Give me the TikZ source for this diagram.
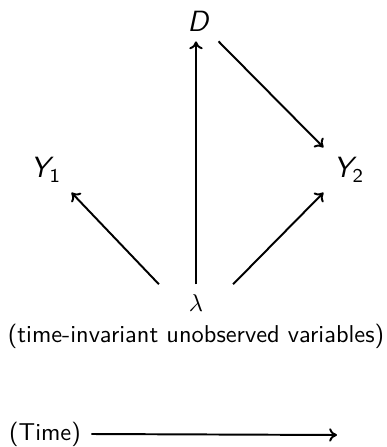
\documentclass[tikz,border=0pt]{standalone}
\usepackage{amsmath}
\usepackage{tikz}
\usetikzlibrary{arrows,arrows.meta,positioning,calc}

\begin{document}
\begin{tikzpicture}[
            x=0.41pt, y=-0.41pt,
            var/.style={font=\large\sffamily\itshape, inner sep=4pt},
            latent/.style={inner sep=4pt, minimum width=30pt},
            lab/.style={draw=none, fill=none, font=\sffamily},
            arr/.style={-{To[length=3.2pt,width=5.5pt]}, thick}
        ]
            \useasboundingbox (0,0) rectangle (387,447);

% --- variables ---
            \node[var] (d) at (198,21) {D};
            \node[var] (y1) at (46,170) {Y\textsubscript{\upshape 1}};
            \node[var] (y2) at (349,170) {Y\textsubscript{\upshape 2}};
            \node[latent] (lam) at (196,303) {$\lambda$};

% --- labels ---
            \node[lab] (cap) at (196,336) {(time-invariant unobserved variables)};
            \node[lab] (time) at (45,434) {(Time)};
            \coordinate (timeend) at (337,435);

% --- arrows ---
            \draw[arr] (lam.north) -- (lam.north |- d.south);
            \draw[arr] (d.south east) -- (y2.north west);
            \draw[arr] (lam.north west) -- (y1.south east);
            \draw[arr] (lam.north east) -- (y2.south west);
            \draw[arr] ($(time.east)+(2,0)$) -- (timeend);

        \end{tikzpicture}
\end{document}
